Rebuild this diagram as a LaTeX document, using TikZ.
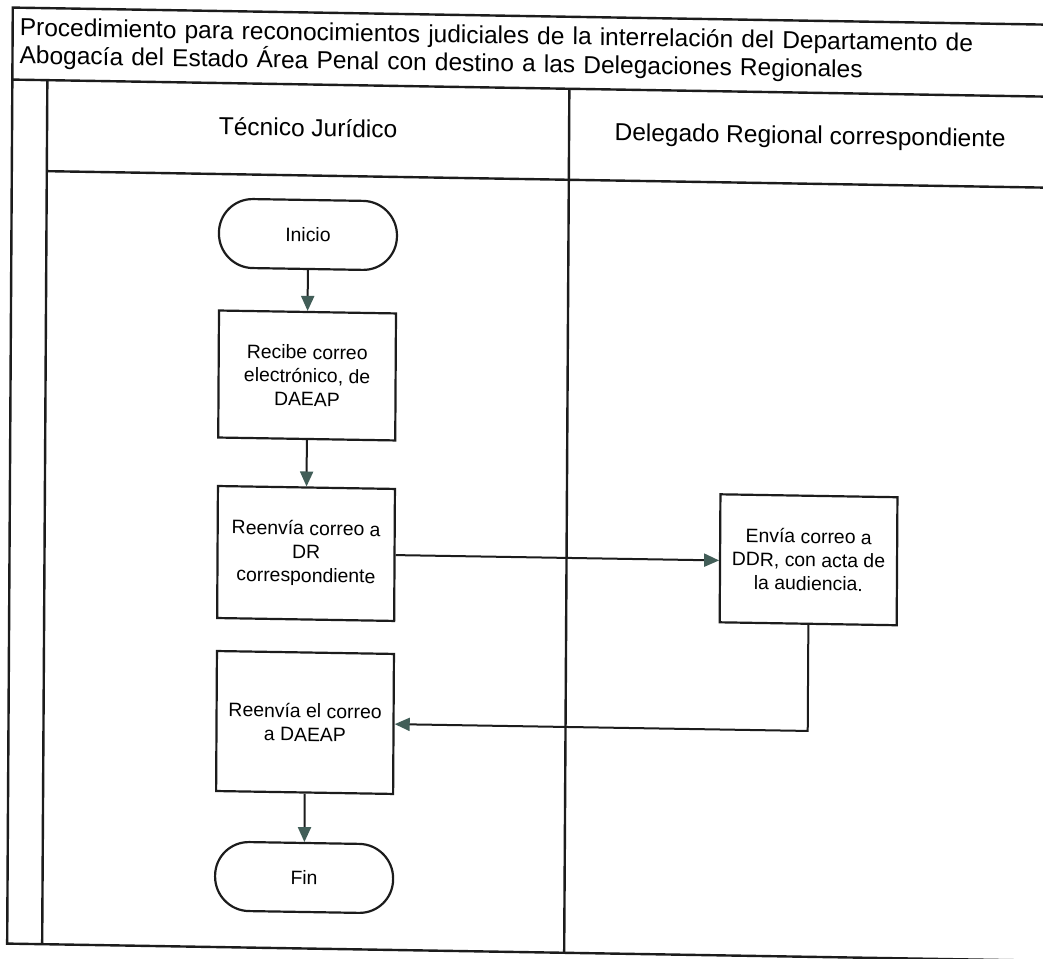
\documentclass[tikz,border=0pt]{standalone}
\usepackage{fontspec}
\setmainfont{Liberation Sans}
\usetikzlibrary{arrows.meta}
\definecolor{ink}{RGB}{28,28,28}
\definecolor{tipc}{RGB}{66,94,88}
\begin{document}
\begin{tikzpicture}[x=1pt,y=-1pt,
  frame/.style={draw=ink, line width=2.4pt},
  proc/.style={draw=ink, line width=2.2pt, minimum width=177pt, inner sep=0pt,
    align=center, font=\fontsize{19.4pt}{23.5pt}\selectfont},
  term/.style={draw=ink, line width=2.2pt, minimum width=178pt, minimum height=69pt,
    rounded corners=34pt, inner sep=0pt, font=\fontsize{19.4pt}{23.5pt}\selectfont},
  titletext/.style={anchor=base west, inner sep=0pt, text width=1010pt, align=left,
    font=\fontsize{24.5pt}{28pt}\selectfont},
  lanetext/.style={anchor=base, inner sep=0pt, font=\fontsize{24.5pt}{28pt}\selectfont},
  flow/.style={draw=ink, line width=2pt, -{Triangle[length=15pt,width=13pt,color=tipc]}}]
\useasboundingbox (0,0) rectangle (1043,958);
\fill[white] (0,0) rectangle (1043,958);
\begin{scope}[cm={1,-0.0165,0.006,1,(2.88pt,8.58pt)}, transform shape]
  % pool frame, title band and lane headers
  \draw[frame] (1070,16) -- (10,16) -- (10,952) -- (1070,952);
  \draw[frame] (10,88) -- (1070,88);
  \draw[frame] (45,88) -- (45,952);
  \draw[frame] (45,179) -- (1070,179);
  \draw[frame] (567,88) -- (567,952);

  \node[titletext] (title) at (17,44) {Procedimiento para reconocimientos judiciales de la interrelación del Departamento de\\Abogacía del Estado Área Penal con destino a las Delegaciones Regionales};
  \node[lanetext] (lane1) at (306,140) {Técnico Jurídico};
  \node[lanetext] (lane2) at (808,139) {Delegado Regional correspondiente};

  % process steps
  \node[term] (start) at (306.5,238) {Inicio};
  \node[proc, minimum height=127pt] (recv) at (306.5,379) {Recibe correo\\electrónico, de\\DAEAP};
  \node[proc, minimum height=132pt] (fwd) at (306.5,557) {Reenvía correo a\\DR\\correspondiente};
  \node[proc, minimum height=128pt] (send) at (809,555) {Envía correo a\\DDR, con acta de\\la audiencia.};
  \node[proc, minimum height=140pt] (back) at (306.5,726) {Reenvía el correo\\a DAEAP};
  \node[term] (end) at (306.5,881) {Fin};

  % connectors
  \draw[flow] (start) -- (recv);
  \draw[flow] (recv) -- (fwd);
  \draw[flow] (fwd.east) -- (fwd.east -| send.west);
  \draw[flow] (send.south) |- (back.east);
  \draw[flow] (back) -- (end);
\end{scope}
\end{tikzpicture}
\end{document}
